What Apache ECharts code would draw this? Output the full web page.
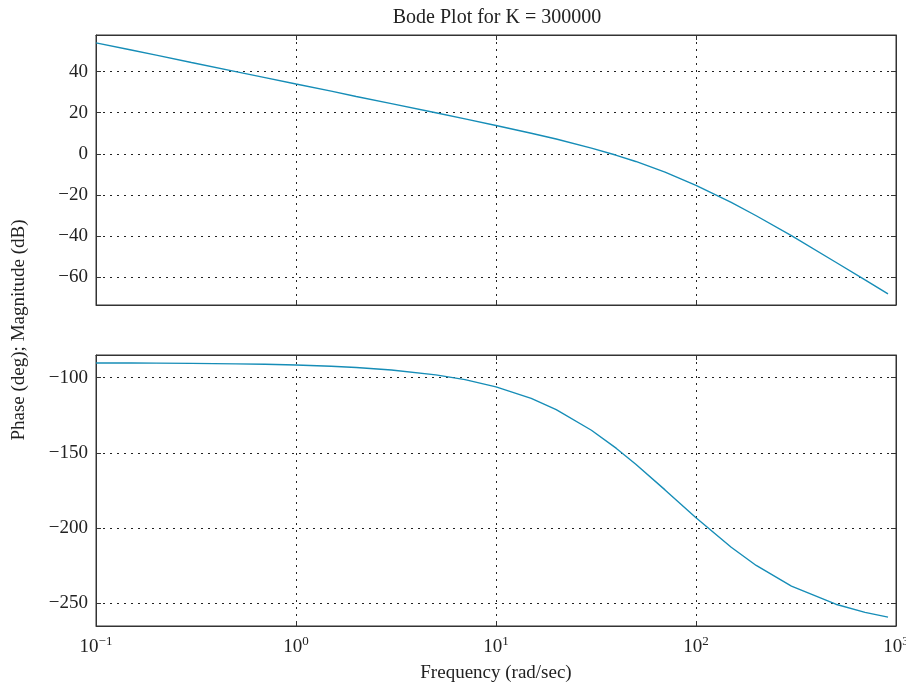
<!DOCTYPE html>
<html>
<head>
<meta charset="utf-8">
<script src="https://cdn.jsdelivr.net/npm/echarts@6/dist/echarts.min.js"></script>
<style>
html,body{margin:0;padding:0;background:#fff;}
#chart{width:906px;height:687px;}
</style>
</head>
<body>
<div id="chart"></div>
<script>
// Frequency (rad/sec)
const freq = [0.1, 0.15, 0.2, 0.3, 0.5, 0.7, 1, 1.5, 2, 3, 5, 7, 10, 15, 20, 30, 40, 50, 70, 100, 150, 200, 300, 500, 700, 912];
// Magnitude (dB)
const magnitude = [54.0, 50.5, 48.0, 44.4, 40.0, 37.1, 34.0, 30.5, 27.9, 24.4, 20.0, 17.0, 13.8, 10.0, 7.2, 2.8, -0.7, -3.7, -8.9, -15.3, -23.6, -30.1, -39.8, -52.7, -61.3, -68.1];
// Phase (deg)
const phase = [-90.2, -90.2, -90.3, -90.5, -90.8, -91.1, -91.6, -92.4, -93.2, -94.9, -98.1, -101.3, -106.1, -113.8, -121.3, -135.0, -147.1, -157.6, -174.7, -193.2, -212.9, -225.0, -238.7, -250.8, -256.2, -259.4];
// Tick values
const magTicks = [-60, -40, -20, 0, 20, 40];
const phaseTicks = [-250, -200, -150, -100];
const magRange = [-73.5, 57.8];
const phaseRange = [-265.3, -84.9];
const freqRange = [0.1, 1000];

const FONT = 'Liberation Serif';
const TXT = '#222';
const gridLine = { show: true, lineStyle: { color: '#222', type: [2, 5], width: 1 } };
const axisLine = { show: true, onZero: false, lineStyle: { color: '#333', width: 1 } };

function minus(v) { return String(v).replace('-', '\u2212'); }
function pow10(v) {
  const e = Math.round(Math.log10(v));
  return '{b|10}{s|' + minus(e) + '}';
}

function xAx(gridIndex, pos, labels, name) {
  return {
    type: 'log', logBase: 10, gridIndex: gridIndex, position: pos,
    min: freqRange[0], max: freqRange[1],
    axisLine: axisLine,
    axisTick: { show: true, inside: true, length: 5, lineStyle: { color: '#333' } },
    minorTick: { show: false },
    axisLabel: labels ? {
      show: true, margin: 9, formatter: pow10,
      rich: {
        b: { fontFamily: FONT, fontSize: 19, color: TXT, lineHeight: 24 },
        s: { fontFamily: FONT, fontSize: 13, color: TXT, verticalAlign: 'top' }
      }
    } : { show: false },
    splitLine: pos === 'bottom' ? gridLine : { show: false },
    name: name || '', nameLocation: 'middle', nameGap: 38,
    nameTextStyle: { fontFamily: FONT, fontSize: 19, color: TXT }
  };
}

function yAx(gridIndex, pos, range, ticks, labels) {
  return {
    type: 'value', gridIndex: gridIndex, position: pos,
    min: range[0], max: range[1],
    axisLine: axisLine,
    axisTick: { show: true, inside: true, length: 5, customValues: ticks, lineStyle: { color: '#333' } },
    axisLabel: labels ? {
      show: true, customValues: ticks, margin: 8,
      fontFamily: FONT, fontSize: 19, color: TXT, formatter: minus
    } : { show: false },
    splitLine: pos === 'left' ? gridLine : { show: false }
  };
}

const chart = echarts.init(document.getElementById('chart'), null, { renderer: 'canvas' });
chart.setOption({
  animation: false,
  backgroundColor: '#fff',
  title: {
    text: 'Bode Plot for K = 300000', left: 492, top: 3, textAlign: 'center',
    textStyle: { fontFamily: FONT, fontSize: 20, fontWeight: 'normal', color: TXT }
  },
  grid: [
    { left: 96, right: 10, top: 35, height: 270, show: true, borderColor: '#333', borderWidth: 1, backgroundColor: '#fff', outerBoundsMode: 'none', containLabel: false },
    { left: 96, right: 10, top: 355, height: 271, show: true, borderColor: '#333', borderWidth: 1, backgroundColor: '#fff', outerBoundsMode: 'none', containLabel: false }
  ],
  xAxis: [
    xAx(0, 'bottom', false),
    xAx(0, 'top', false),
    xAx(1, 'bottom', true, 'Frequency (rad/sec)'),
    xAx(1, 'top', false)
  ],
  yAxis: [
    yAx(0, 'left', magRange, magTicks, true),
    yAx(0, 'right', magRange, magTicks, false),
    yAx(1, 'left', phaseRange, phaseTicks, true),
    yAx(1, 'right', phaseRange, phaseTicks, false)
  ],
  graphic: [{
    type: 'text', x: 19, y: 330, rotation: Math.PI / 2,
    style: { text: 'Phase (deg); Magnitude (dB)', fontFamily: FONT, fontSize: 19, fill: TXT, textAlign: 'center', textVerticalAlign: 'middle' }
  }],
  series: [
    {
      type: 'line', xAxisIndex: 0, yAxisIndex: 0, showSymbol: false, symbol: 'none',
      lineStyle: { color: '#168db7', width: 1.4 },
      data: freq.map((f, i) => [f, magnitude[i]])
    },
    {
      type: 'line', xAxisIndex: 2, yAxisIndex: 2, showSymbol: false, symbol: 'none',
      lineStyle: { color: '#168db7', width: 1.4 },
      data: freq.map((f, i) => [f, phase[i]])
    }
  ]
});
</script>
</body>
</html>
